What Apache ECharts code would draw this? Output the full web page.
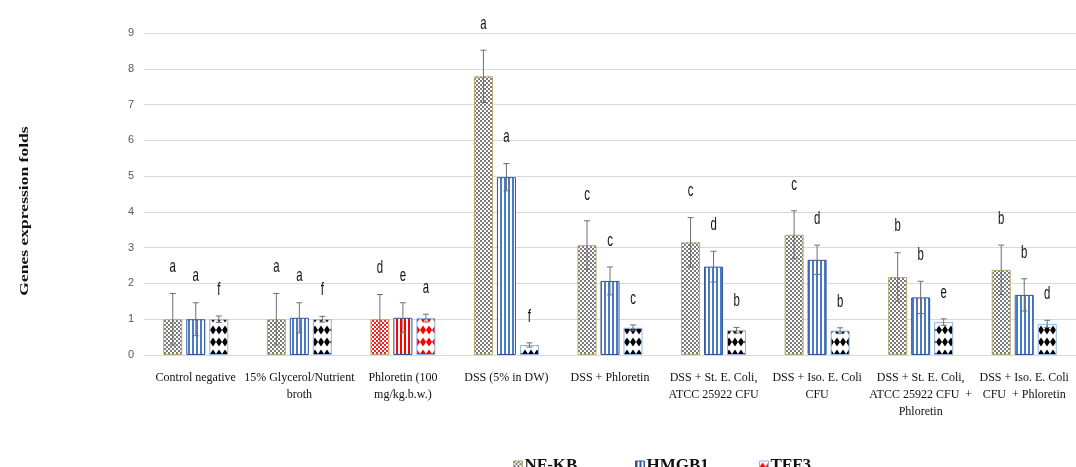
<!DOCTYPE html>
<html>
<head>
<meta charset="utf-8">
<script src="https://cdn.jsdelivr.net/npm/echarts@6/dist/echarts.min.js"></script>
<style>
  html, body { margin: 0; padding: 0; background: #fff; }
  #chart { width: 1076px; height: 467px; }
</style>
</head>
<body>
<div id="chart"></div>
<script>
// Treatment groups along the x axis
const groups = [
  'Control negative',
  '15% Glycerol/Nutrient\nbroth',
  'Phloretin (100\nmg/kg.b.w.)',
  'DSS (5% in DW)',
  'DSS + Phloretin',
  'DSS + St. E. Coli,\nATCC 25922 CFU',
  'DSS + Iso. E. Coli\nCFU',
  'DSS + St. E. Coli,\nATCC 25922 CFU  +\nPhloretin',
  'DSS + Iso. E. Coli\nCFU  + Phloretin'
];

const genes = ['NF-KB', 'HMGB1', 'TFF3'];

// Mean fold change per group
const nfkb  = [1.00, 1.00, 1.00, 7.79, 3.07, 3.15, 3.36, 2.18, 2.38];
const hmgb1 = [1.00, 1.04, 1.04, 4.97, 2.07, 2.47, 2.66, 1.61, 1.68];
const tff3  = [1.00, 1.00, 1.03, 0.28, 0.76, 0.69, 0.68, 0.92, 0.87];

// Error (±) per group
const nfkbErr  = [0.72, 0.72, 0.69, 0.73, 0.68, 0.69, 0.67, 0.68, 0.69];
const hmgb1Err = [0.46, 0.42, 0.42, 0.38, 0.39, 0.43, 0.41, 0.45, 0.45];
const tff3Err  = [0.09, 0.08, 0.11, 0.06, 0.08, 0.08, 0.08, 0.09, 0.10];

// Significance letters
const nfkbSig  = ['a', 'a', 'd', 'a', 'c', 'c', 'c', 'b', 'b'];
const hmgb1Sig = ['a', 'a', 'e', 'a', 'c', 'd', 'd', 'b', 'b'];
const tff3Sig  = ['f', 'f', 'a', 'f', 'c', 'b', 'b', 'e', 'd'];

// Y axis ticks
const yTicks = { min: 0, max: 9, step: 1 };

// ---- fill patterns ----
function tile(w, h, draw) {
  const c = document.createElement('canvas');
  c.width = w; c.height = h;
  const ctx = c.getContext('2d');
  ctx.fillStyle = '#ffffff';
  ctx.fillRect(0, 0, w, h);
  draw(ctx);
  return { image: c, repeat: 'repeat' };
}
function checker(fg) {
  return tile(4, 4, ctx => {
    ctx.fillStyle = fg;
    ctx.fillRect(0, 0, 2, 2);
    ctx.fillRect(2, 2, 2, 2);
  });
}
function stripes(fg) {
  return tile(4, 4, ctx => {
    ctx.fillStyle = fg;
    ctx.fillRect(0, 0, 2, 4);
  });
}
function diamonds(fg) {
  return tile(6, 12, ctx => {
    ctx.fillStyle = fg;
    ctx.beginPath();
    ctx.moveTo(3, 1.5);
    ctx.lineTo(6, 6);
    ctx.lineTo(3, 10.5);
    ctx.lineTo(0, 6);
    ctx.closePath();
    ctx.fill();
  });
}

const BAR_W = 19;
const BAR_GAP = 4;
const RED_GROUP = 2; // Phloretin-only group drawn in red

const values = [nfkb, hmgb1, tff3];
const errors = [nfkbErr, hmgb1Err, tff3Err];
const letters = [nfkbSig, hmgb1Sig, tff3Sig];

const fills = [checker('#7a7a7a'), stripes('#4a7bc8'), diamonds('#000000')];
const redFills = [checker('#ff1a1a'), stripes('#ff0000'), diamonds('#ff0000')];
const borders = ['#b7a872', '#2f5597', '#8fb4e3'];

const barSeries = genes.map((g, k) => ({
  name: g,
  type: 'bar',
  barWidth: BAR_W,
  barGap: (BAR_GAP / BAR_W * 100) + '%',
  itemStyle: { color: fills[k], borderColor: borders[k], borderWidth: 1 },
  data: values[k].map((v, i) => i === RED_GROUP
    ? { value: v, itemStyle: { color: redFills[k] } }
    : v),
  z: 2
}));

// Error bars with caps and the letter above each cap
const errSeries = genes.map((g, k) => ({
  name: g + ' error',
  type: 'custom',
  z: 5,
  silent: true,
  data: values[k].map((v, i) => [i, v, errors[k][i], letters[k][i]]),
  renderItem(params, api) {
    const i = api.value(0), v = api.value(1), e = api.value(2);
    const dx = (k - 1) * (BAR_W + BAR_GAP);
    const top = api.coord([i, v + e]);
    const bot = api.coord([i, v - e]);
    const x = top[0] + dx;
    const cap = 3;
    const line = { stroke: '#6f6f6f', lineWidth: 1 };
    return {
      type: 'group',
      children: [
        { type: 'line', shape: { x1: x, y1: top[1], x2: x, y2: bot[1] }, style: line },
        { type: 'line', shape: { x1: x - cap, y1: top[1], x2: x + cap, y2: top[1] }, style: line },
        { type: 'line', shape: { x1: x - cap, y1: bot[1], x2: x + cap, y2: bot[1] }, style: line },
        {
          type: 'text', x: x, y: top[1] - 17, scaleX: 0.6,
          style: {
            text: letters[k][i],
            font: '19px "Liberation Sans", Arial, sans-serif',
            fill: '#111',
            align: 'center',
            verticalAlign: 'bottom'
          }
        }
      ]
    };
  }
}));

const chart = echarts.init(document.getElementById('chart'), null, { renderer: 'canvas' });

const legendIcons = [checker('#7a7a7a'), stripes('#2f5597'), diamonds('#ff0000')];
const legendLeft = [508, 630, 754];

// One legend entry per component so each sits in its own fixed slot
const legends = genes.map((g, k) => ({
  left: legendLeft[k],
  top: 452,
  itemWidth: 9,
  itemHeight: 9,
  icon: 'rect',
  data: [{
    name: g,
    itemStyle: { color: legendIcons[k], borderColor: borders[k], borderWidth: 1 }
  }],
  textStyle: {
    fontFamily: '"Liberation Serif", "Times New Roman", serif',
    fontWeight: 'bold',
    fontSize: 17,
    color: '#111',
    padding: [0, 0, 0, -3]
  }
}));

chart.setOption({
  animation: false,
  backgroundColor: '#ffffff',
  grid: { left: 144, top: 33, width: 945, height: 322, containLabel: false },
  legend: legends,
  xAxis: {
    type: 'category',
    data: groups,
    axisLine: { lineStyle: { color: '#d9d9d9', width: 1 } },
    axisTick: { show: false },
    axisLabel: {
      interval: 0,
      margin: 14,
      color: '#111',
      fontFamily: '"Liberation Serif", "Times New Roman", serif',
      fontSize: 12,
      lineHeight: 17,
      align: 'center'
    }
  },
  yAxis: {
    type: 'value',
    min: yTicks.min,
    max: yTicks.max,
    interval: yTicks.step,
    axisLine: { show: false },
    axisTick: { show: false },
    splitLine: { lineStyle: { color: '#d9d9d9', width: 1 } },
    axisLabel: {
      margin: 10,
      color: '#595959',
      fontFamily: '"Liberation Sans Narrow", "Liberation Sans", Arial, sans-serif',
      fontSize: 11
    }
  },
  graphic: [{
    type: 'text',
    x: 25,
    y: 211,
    rotation: Math.PI / 2,
    scaleX: 1.35,
    style: {
      text: 'Genes expression folds',
      font: 'bold 13px "Liberation Serif", "Times New Roman", serif',
      fill: '#111',
      align: 'center',
      verticalAlign: 'middle'
    }
  }],
  series: [...barSeries, ...errSeries]
});
</script>
</body>
</html>
